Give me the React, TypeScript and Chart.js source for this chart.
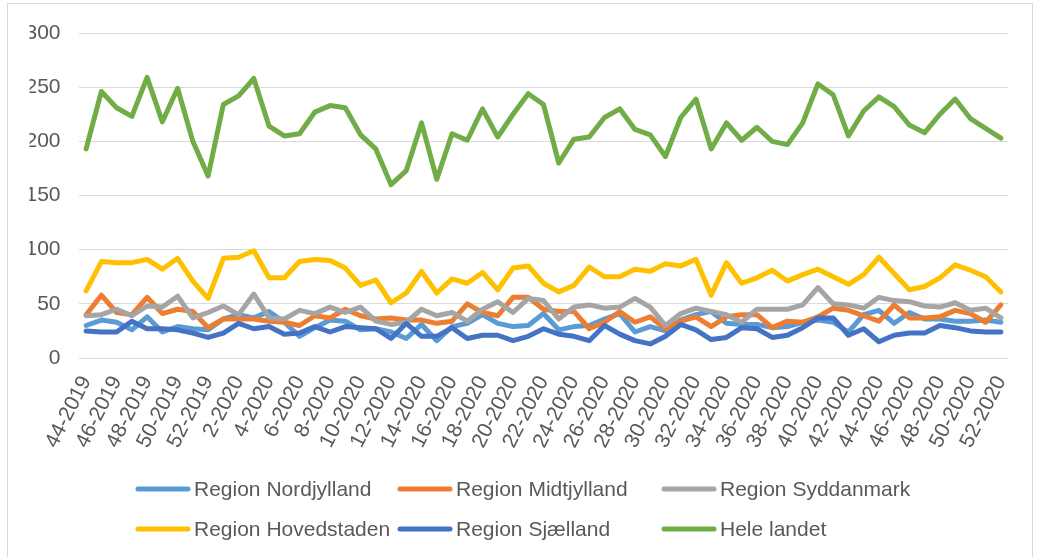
import React, { useEffect, useRef } from "react";
import { Chart, registerables } from "chart.js";

Chart.register(...registerables);

const weeks = [
  "44-2019","45-2019","46-2019","47-2019","48-2019","49-2019","50-2019","51-2019","52-2019",
  "1-2020","2-2020","3-2020","4-2020","5-2020","6-2020","7-2020","8-2020","9-2020","10-2020",
  "11-2020","12-2020","13-2020","14-2020","15-2020","16-2020","17-2020","18-2020","19-2020","20-2020",
  "21-2020","22-2020","23-2020","24-2020","25-2020","26-2020","27-2020","28-2020","29-2020","30-2020",
  "31-2020","32-2020","33-2020","34-2020","35-2020","36-2020","37-2020","38-2020","39-2020","40-2020",
  "41-2020","42-2020","43-2020","44-2020","45-2020","46-2020","47-2020","48-2020","49-2020","50-2020",
  "51-2020","52-2020",
];

const nordjylland = [30,35,33,26,38,24,29,27,26,36,40,37,43,33,20,28,35,34,26,27,24,18,31,16,29,32,40,32,29,30,41,26,29,30,36,41,24,29,25,35,40,43,32,31,31,28,29,33,35,33,24,40,44,32,42,36,36,34,34,35,33];
const midtjylland = [40,58,42,40,56,41,45,43,28,36,36,36,34,33,30,39,37,45,39,36,37,35,35,32,34,50,42,39,56,56,45,43,43,27,33,43,33,38,27,34,38,29,38,40,40,28,34,33,38,46,44,39,34,49,37,37,38,44,41,33,49];
const syddanmark = [39,40,45,39,48,47,57,37,42,48,40,59,37,36,44,41,47,42,47,34,31,33,45,39,42,34,45,52,42,55,53,36,47,49,46,47,55,47,30,41,46,43,40,33,45,45,45,49,65,50,49,46,56,53,52,48,47,51,44,46,37];
const hovedstaden = [62,89,88,88,91,82,92,71,55,92,93,99,74,74,89,91,90,83,67,72,51,60,80,60,73,69,79,63,83,85,69,61,67,84,75,75,82,80,87,85,91,58,88,69,74,81,71,77,82,75,68,77,93,78,63,66,74,86,81,75,61];
const sjaelland = [25,24,24,34,27,27,26,23,19,23,32,27,29,22,23,29,24,29,28,27,18,32,20,20,28,18,21,21,16,20,27,22,20,16,30,22,16,13,20,31,26,17,19,28,27,19,21,28,37,37,21,27,15,21,23,23,30,28,25,24,24];
const heleLandet = [193,246,231,223,259,218,249,200,168,234,242,258,214,205,207,227,233,231,206,193,160,173,217,165,207,201,230,204,225,244,234,180,202,204,222,230,211,206,186,222,239,193,217,201,213,200,197,217,253,243,205,228,241,232,215,208,225,239,221,212,203];

const seriesNames = ["Region Nordjylland","Region Midtjylland","Region Syddanmark","Region Hovedstaden","Region Sjælland","Hele landet"];
const seriesData = [nordjylland, midtjylland, syddanmark, hovedstaden, sjaelland, heleLandet];
const seriesColors = ["#5B9BD5","#ED7D31","#A5A5A5","#FFC000","#4472C4","#70AD47"];

const FONT = "'Liberation Sans', Arial, sans-serif";
const TEXT_COLOR = "#595959";
const LEGEND_COLS = [136, 398, 662];
const LEGEND_ROWS = [489, 529];

const gridLegend = {
  id: "gridLegend",
  afterDraw(chart: any) {
    const ctx = chart.ctx;
    ctx.save();
    chart.data.datasets.forEach((ds: any, i: number) => {
      const x = LEGEND_COLS[i % 3];
      const y = LEGEND_ROWS[Math.floor(i / 3)];
      ctx.strokeStyle = ds.borderColor;
      ctx.lineWidth = 5;
      ctx.lineCap = "round";
      ctx.beginPath();
      ctx.moveTo(x + 2, y);
      ctx.lineTo(x + 52, y);
      ctx.stroke();
      ctx.fillStyle = TEXT_COLOR;
      ctx.font = `21px ${FONT}`;
      ctx.textBaseline = "middle";
      ctx.textAlign = "left";
      ctx.fillText(ds.label, x + 58, y + 1);
    });
    ctx.restore();
  },
};

export default function App() {
  const ref = useRef<HTMLCanvasElement | null>(null);

  useEffect(() => {
    document.body.style.margin = "0";
    const canvas = ref.current;
    if (!canvas) return;
    const chart = new Chart(canvas, {
      type: "line",
      data: {
        labels: weeks,
        datasets: seriesNames.map((name, i) => ({
          label: name,
          data: seriesData[i],
          borderColor: seriesColors[i],
          backgroundColor: seriesColors[i],
          borderWidth: 5,
          pointRadius: 0,
          pointHoverRadius: 0,
          tension: 0,
          borderJoinStyle: "round" as const,
          borderCapStyle: "round" as const,
          fill: false,
          order: seriesNames.length - i,
        })),
      },
      options: {
        responsive: false,
        animation: false,
        layout: { padding: { left: 29.5, right: 31.5, top: 33, bottom: 109 } },
        plugins: {
          legend: { display: false },
          tooltip: { enabled: false },
          title: { display: false },
        },
        scales: {
          x: {
            offset: true,
            grid: { display: false, drawTicks: false },
            border: { display: false },
            ticks: {
              autoSkip: false,
              minRotation: 63,
              maxRotation: 63,
              padding: 14,
              color: TEXT_COLOR,
              font: { family: FONT, size: 21 },
              callback: function (this: any, value: any, index: number) {
                return index % 2 === 0 ? this.getLabelForValue(value) : "";
              },
            },
            afterFit: (s: any) => {
              s.height = 90;
            },
          },
          y: {
            min: 0,
            max: 300,
            grid: { color: "#D9D9D9", lineWidth: 1, drawTicks: false },
            border: { display: false },
            ticks: {
              stepSize: 50,
              padding: 18,
              color: TEXT_COLOR,
              font: { family: FONT, size: 21 },
            },
            afterFit: (s: any) => {
              s.width = 49;
            },
          },
        },
      },
      plugins: [gridLegend],
    });
    return () => chart.destroy();
  }, []);

  return (
    <div style={{ position: "relative", width: 1040, height: 557, overflow: "hidden", background: "#fff" }}>
      <div
        style={{
          position: "absolute",
          left: 7,
          top: 3,
          width: 1026,
          height: 600,
          border: "1px solid #D9D9D9",
          boxSizing: "border-box",
        }}
      />
      <canvas ref={ref} width={1040} height={557} style={{ position: "absolute", left: 0, top: 0, width: 1040, height: 557 }} />
    </div>
  );
}
